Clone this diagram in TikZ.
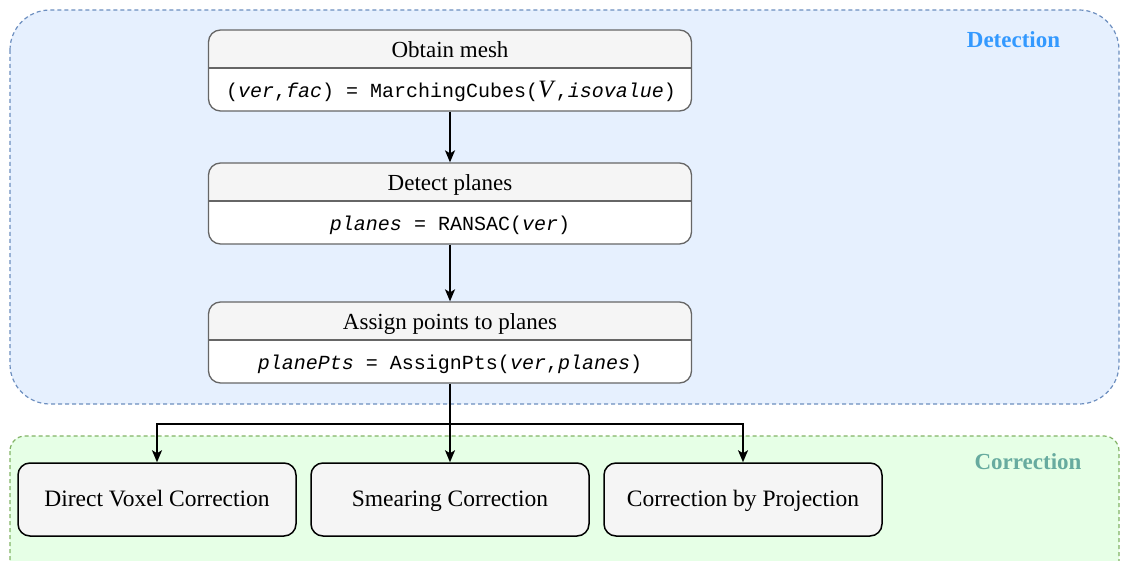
\documentclass[tikz,border=0pt]{standalone}
\usepackage{fontspec}
\setmainfont{Liberation Serif}
\setmonofont{Liberation Mono}
\usetikzlibrary{arrows.meta}
\definecolor{detfill}{HTML}{E6F0FE}
\definecolor{detline}{HTML}{6C8EBF}
\definecolor{detlabel}{HTML}{3399FF}
\definecolor{corfill}{HTML}{E6FFE6}
\definecolor{corline}{HTML}{82B366}
\definecolor{corlabel}{HTML}{67AB9F}
\definecolor{hdr}{HTML}{F5F5F5}
\definecolor{boxline}{HTML}{666666}
\tikzset{
  ttl/.style={inner sep=0pt, anchor=base, font=\fontsize{23}{27}\selectfont},
  code/.style={inner sep=0pt, anchor=base, font=\fontsize{20}{24}\selectfont\ttfamily},
  grplabel/.style={inner sep=0pt, anchor=base, font=\fontsize{23}{27}\selectfont\bfseries},
  splitbox/.style={draw=boxline, line width=1.3pt, rounded corners=12pt, minimum width=483pt, minimum height=81pt, inner sep=0pt},
  corbox/.style={draw=black, fill=hdr, line width=1.5pt, rounded corners=12pt, minimum width=278pt, minimum height=73pt, inner sep=0pt, text height=16pt, text depth=3pt, font=\fontsize{23.5}{27}\selectfont},
  arr/.style={line width=1.7pt, -{Stealth[length=12pt,width=10pt,inset=3pt]}},
  conn/.style={line width=1.7pt},
  grpline/.style={dash pattern=on 4pt off 3pt, line width=1.2pt}
}
\newcommand{\mvar}[1]{\textit{#1}}
\begin{document}
\begin{tikzpicture}[x=1pt,y=-1pt]
\useasboundingbox (0,0) rectangle (1123,561);
% containers
\draw[detline, fill=detfill, grpline, rounded corners=40pt] (10,10) rectangle (1119,404);
\node[grplabel, text=detlabel] (dl) at (1013.5,48) {Detection};
\draw[corline, fill=corfill, grpline, rounded corners=15pt] (10,436) rectangle (1119,575);
\node[grplabel, text=corlabel] (cl) at (1028,469) {Correction};
% split boxes
\foreach \n/\y in {b1/30, b2/163, b3/302}{
  \begin{scope}
    \clip[rounded corners=12pt] (208.5,\y) rectangle (691.5,\y+81);
    \fill[white] (208.5,\y) rectangle (691.5,\y+81);
    \fill[hdr] (208.5,\y) rectangle (691.5,\y+38);
  \end{scope}
  \node[splitbox] (\n) at (450,\y+40.5) {};
  \draw[boxline, line width=1.3pt] (208.5,\y+38) -- (691.5,\y+38);
}
\node[ttl] (t1) at (450,57.5) {Obtain mesh};
\node[code] (c1t) at (451,97.5) {(\mvar{ver},\mvar{fac}) = MarchingCubes({\rmfamily\fontsize{25}{25}\selectfont\itshape V\/},\mvar{isovalue})};
\node[ttl] (t2) at (450,190.5) {Detect planes};
\node[code] (c2t) at (450,230.5) {\mvar{planes} = RANSAC(\mvar{ver})};
\node[ttl] (t3) at (450,329.5) {Assign points to planes};
\node[code] (c3t) at (450,369.5) {\mvar{planePts} = AssignPts(\mvar{ver},\mvar{planes})};
% correction boxes
\node[corbox] (d1) at (157,499.5) {Direct Voxel Correction};
\node[corbox] (d2) at (450,499.5) {Smearing Correction};
\node[corbox] (d3) at (743,499.5) {Correction by Projection};
% connectors
\draw[arr] (b1.south) -- (b2.north);
\draw[arr] (b2.south) -- (b3.north);
\coordinate (j) at (450,424);
\draw[conn] (b3.south) -- (j);
\draw[arr] (j) -- (d2.north);
\draw[arr] (j) -| (d1.north);
\draw[arr] (j) -| (d3.north);
\end{tikzpicture}
\end{document}
